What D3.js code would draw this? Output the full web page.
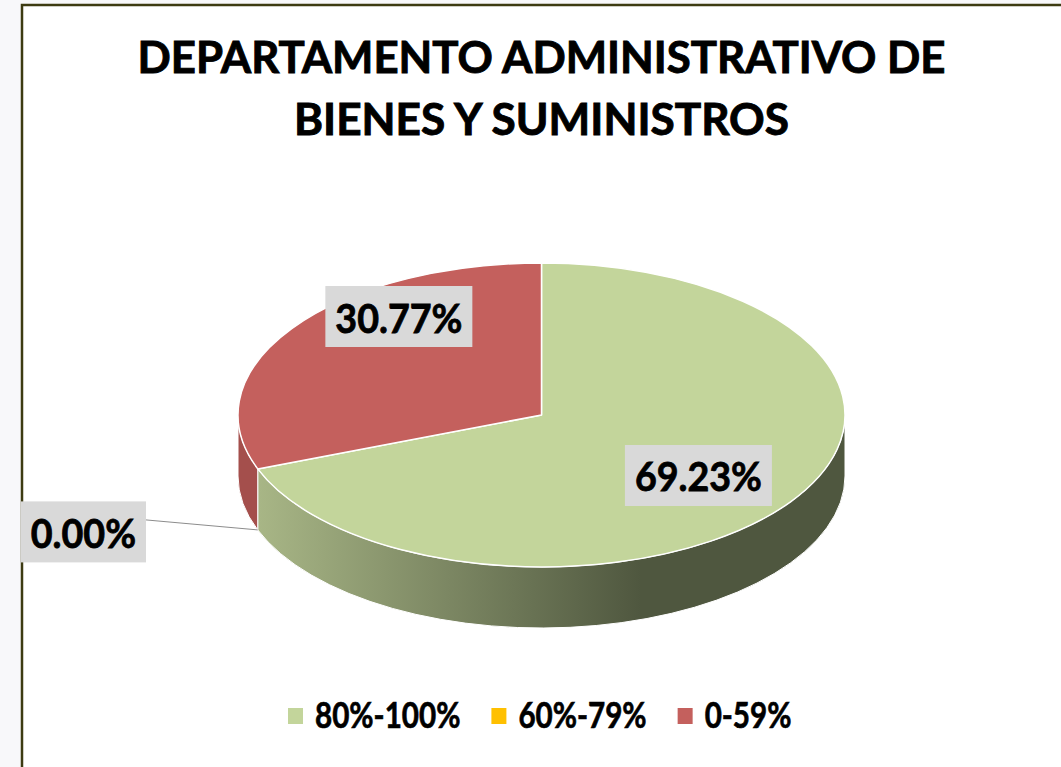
<!DOCTYPE html>
<html>
<head>
<meta charset="utf-8">
<script src="https://cdn.jsdelivr.net/npm/d3@7"></script>
<style>
  html, body { margin: 0; padding: 0; background: #f8f8fa; }
  svg { display: block; font-family: Lato, "Open Sans", sans-serif; font-weight: 700; }
</style>
</head>
<body>
<div id="pie_chart"></div>
<script>
// chart data
const categories = ["80%-100%", "60%-79%", "0-59%"];
const values = [69.23, 0.00, 30.77];
const labels = ["69.23%", "0.00%", "30.77%"];
const titleLines = ["DEPARTAMENTO ADMINISTRATIVO DE", "BIENES Y SUMINISTROS"];

const width = 1061, height = 767;
const colors = d3.scaleOrdinal().domain(categories).range(["#c3d59b", "#ffc000", "#c4605d"]);
const sideColors = d3.scaleOrdinal().domain(categories).range(["url(#greenSide)", "#cc9a00", "#a44f4c"]);

// pie geometry (3d ellipse)
const cx = 541.5, cy = 415, rx = 303.5, ry = 152, depth = 61;

// Calibri is narrower than Lato: squeeze text by this factor
const squeeze = { title: 1, label: 0.94, legend: 0.80 };
const fitText = (sel, f) => sel.each(function() {
    const w = this.getComputedTextLength() * f;
    d3.select(this).attr("textLength", w).attr("lengthAdjust", "spacingAndGlyphs");
});

const svg = d3.select("#pie_chart")
    .append("svg")
    .attr("width", width)
    .attr("height", height);

// chart area with border
svg.append("rect")
    .attr("x", 22).attr("y", 5)
    .attr("width", width + 20).attr("height", height + 20)
    .attr("fill", "#ffffff")
    .attr("stroke", "#3d3b12")
    .attr("stroke-width", 2.5);

// gradient for green side wall
const defs = svg.append("defs");
const grad = defs.append("linearGradient")
    .attr("id", "greenSide")
    .attr("gradientUnits", "userSpaceOnUse")
    .attr("x1", cx - rx * 0.935).attr("x2", cx + rx * 0.33)
    .attr("y1", 0).attr("y2", 0);
grad.append("stop").attr("offset", "0%").attr("stop-color", "#a8b686");
grad.append("stop").attr("offset", "100%").attr("stop-color", "#4f573f");

// title
svg.selectAll("text.title")
    .data(titleLines)
    .join("text")
    .attr("class", "title")
    .attr("x", cx)
    .attr("y", (d, i) => 73 + i * 62)
    .attr("text-anchor", "middle")
    .attr("font-size", 43)
    .attr("textLength", (d, i) => i === 0 ? 808 : 495)
    .attr("lengthAdjust", "spacingAndGlyphs")
    .attr("fill", "#000")
    .attr("stroke", "#000")
    .attr("stroke-width", 0.9)
    .text(d => d);

// angle helpers: a measured clockwise from 12 o'clock
const pt = (a, dy = 0) => [cx + rx * Math.sin(a), cy - ry * Math.cos(a) + dy];

const pie = d3.pie().sort(null).value(d => d.value);
const arcs = pie(categories.map((c, i) => ({ cat: c, value: values[i], label: labels[i] })));

// side walls (front half only: PI/2 .. 3PI/2)
const g = svg.append("g");
arcs.forEach(d => {
    const s0 = Math.max(d.startAngle, Math.PI / 2);
    const s1 = Math.min(d.endAngle, 3 * Math.PI / 2);
    if (s1 - s0 <= 0.0001) return;
    const p0 = pt(s0), p1 = pt(s1), q1 = pt(s1, depth), q0 = pt(s0, depth);
    const path = `M${p0}A${rx},${ry} 0 0 1 ${p1}L${q1}A${rx},${ry} 0 0 0 ${q0}Z`;
    g.append("path")
        .attr("d", path)
        .attr("fill", sideColors(d.data.cat))
        .attr("stroke", "#ffffff")
        .attr("stroke-width", 1);
});

// top faces
g.selectAll("path.top")
    .data(arcs.filter(d => d.endAngle - d.startAngle > 0))
    .join("path")
    .attr("class", "top")
    .attr("d", d => {
        const p0 = pt(d.startAngle), p1 = pt(d.endAngle);
        const large = d.endAngle - d.startAngle > Math.PI ? 1 : 0;
        return `M${cx},${cy}L${p0}A${rx},${ry} 0 ${large} 1 ${p1}Z`;
    })
    .attr("fill", d => colors(d.data.cat))
    .attr("stroke", "#ffffff")
    .attr("stroke-width", 1.5)
    .attr("stroke-linejoin", "round");

// data labels: anchors in units of rx/ry from the center
const labelAnchor = { "80%-100%": [0.517, 0.398], "0-59%": [-0.470, -0.648] };
const labelG = svg.append("g");

function drawLabel(text, x, y) {
    const lg = labelG.append("g");
    const t = lg.append("text")
        .attr("x", x).attr("y", y + 16)
        .attr("text-anchor", "middle")
        .attr("font-size", 40)
        .attr("fill", "#000")
        .attr("stroke", "#000")
        .attr("stroke-width", 0.8)
        .text(text);
    fitText(t, squeeze.label);
    const w = +t.attr("textLength");
    lg.insert("rect", "text")
        .attr("x", x - w / 2 - 10).attr("y", y - 30.5)
        .attr("width", w + 20).attr("height", 61)
        .attr("fill", "#d9d9d9");
}

arcs.forEach(d => {
    const a = labelAnchor[d.data.cat];
    if (a) {
        drawLabel(d.data.label, cx + a[0] * rx, cy + a[1] * ry);
    } else {
        // zero slice: outside label with leader line
        const tip = pt(d.startAngle, depth);
        const boxRight = 146, boxY = tip[1] + 2;
        labelG.append("polyline")
            .attr("points", [[boxRight, boxY - 12], [boxRight + 11, boxY - 11], tip].join(" "))
            .attr("fill", "none")
            .attr("stroke", "#8c8c8c")
            .attr("stroke-width", 1);
        const t = labelG.append("text").attr("font-size", 40).text(d.data.label);
        const w = t.node().getComputedTextLength() * squeeze.label;
        t.remove();
        drawLabel(d.data.label, boxRight - (w + 20) / 2, boxY);
    }
});

// legend
const legend = svg.append("g");
let lx = 288;
categories.forEach(c => {
    legend.append("rect")
        .attr("x", lx).attr("y", 708)
        .attr("width", 15).attr("height", 16)
        .attr("fill", colors(c));
    const t = legend.append("text")
        .attr("x", lx + 27).attr("y", 728)
        .attr("font-size", 37)
        .attr("fill", "#000")
        .attr("stroke", "#000")
        .attr("stroke-width", 0.7)
        .text(c);
    fitText(t, squeeze.legend);
    lx += 27 + (+t.attr("textLength")) + 31;
});
</script>
</body>
</html>
